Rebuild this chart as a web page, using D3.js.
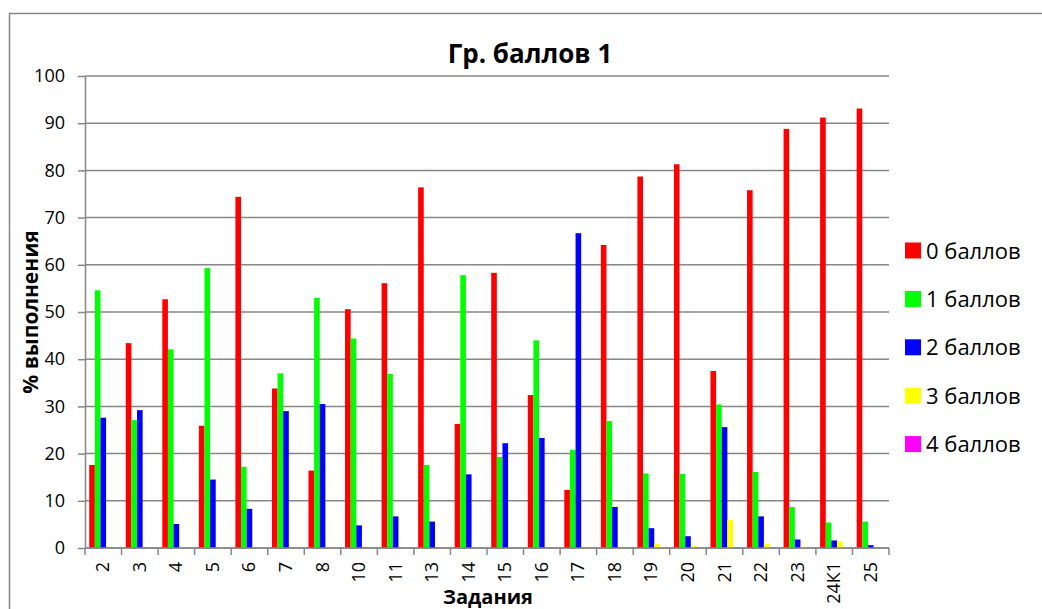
<!DOCTYPE html>
<html>
<head>
<meta charset="utf-8">
<script src="https://cdn.jsdelivr.net/npm/d3@7"></script>
<style>
  body { margin: 0; background: #fff; }
  svg { display: block; font-family: "Open Sans", sans-serif; }
</style>
</head>
<body>
<svg id="chart" width="1042" height="609"></svg>
<script>
// tasks on the x axis
var tasks = ["2", "3", "4", "5", "6", "7", "8", "10", "11", "13", "14", "15", "16", "17", "18", "19", "20", "21", "22", "23", "24К1", "25"];

var seriesNames = ["0 баллов", "1 баллов", "2 баллов", "3 баллов", "4 баллов"];

var points0 = [17.6, 43.4, 52.7, 25.9, 74.4, 33.8, 16.4, 50.6, 56.1, 76.4, 26.3, 58.3, 32.4, 12.3, 64.2, 78.7, 81.3, 37.5, 75.8, 88.8, 91.2, 93.1];
var points1 = [54.6, 27.1, 42.1, 59.3, 17.2, 37.0, 53.0, 44.4, 36.9, 17.6, 57.8, 19.3, 44.0, 20.8, 26.9, 15.8, 15.7, 30.4, 16.1, 8.7, 5.4, 5.6];
var points2 = [27.6, 29.2, 5.1, 14.5, 8.3, 29.0, 30.5, 4.8, 6.7, 5.6, 15.6, 22.2, 23.3, 66.7, 8.7, 4.2, 2.5, 25.6, 6.7, 1.8, 1.6, 0.6];
var points3 = [0, 0, 0, 0, 0, 0, 0, 0, 0, 0, 0, 0, 0, 0, 0, 0.85, 0.35, 6.0, 0.9, 0.3, 1.4, 0];
var points4 = [0, 0, 0, 0, 0, 0, 0, 0, 0, 0, 0, 0, 0, 0, 0, 0, 0, 0, 0, 0, 0, 0];

var yTicks = [0, 10, 20, 30, 40, 50, 60, 70, 80, 90, 100];

var colors = ["#ff0000", "#00ff00", "#0000ff", "#ffff00", "#ff00ff"];

var allSeries = [points0, points1, points2, points3, points4];

const svg = d3.select("#chart");
const gridColor = "#878787";

const margin = { left: 85, right: 153, top: 76, bottom: 61 };
const width = 1042 - margin.left - margin.right;   // 804
const height = 609 - margin.top - margin.bottom;   // 472

// outer chart border (runs past the right/bottom edges like the reference)
svg.append("rect")
    .attr("x", 9.5).attr("y", 13.5)
    .attr("width", 1060).attr("height", 640)
    .attr("fill", "none")
    .attr("stroke", gridColor)
    .attr("stroke-width", 1.5);

const g = svg.append("g")
    .attr("transform", `translate(${margin.left},${margin.top})`);

const xScale = d3.scaleBand()
    .domain(tasks)
    .range([0, width])
    .paddingInner(0)
    .paddingOuter(0);

// inner scale for the 5 series, gap width 150% like excel
const barW = xScale.bandwidth() / 6.5;
const xInner = d3.scaleBand()
    .domain(d3.range(seriesNames.length))
    .range([barW * 0.75, xScale.bandwidth() - barW * 0.75])
    .padding(0);

const yScale = d3.scaleLinear()
    .domain([0, 100])
    .range([height, 0]);

// gridlines
g.append("g")
    .selectAll("line")
    .data(yTicks)
    .join("line")
    .attr("x1", 0)
    .attr("x2", width)
    .attr("y1", d => yScale(d))
    .attr("y2", d => yScale(d))
    .attr("stroke", gridColor)
    .attr("stroke-width", 1.5);

// bars
const table = tasks.map((t, i) => ({ task: t, values: allSeries.map(s => s[i]) }));

g.append("g")
    .selectAll("g")
    .data(table)
    .join("g")
    .attr("transform", d => `translate(${xScale(d.task)},0)`)
    .selectAll("rect")
    .data(d => d.values.map((v, k) => ({ k: k, v: v })))
    .join("rect")
    .attr("x", d => xInner(d.k))
    .attr("width", xInner.bandwidth())
    .attr("y", d => yScale(d.v))
    .attr("height", d => height - yScale(d.v))
    .attr("fill", d => colors[d.k]);

// y axis
const yAxis = g.append("g")
    .call(d3.axisLeft(yScale).tickValues(yTicks).tickSize(7).tickSizeOuter(0).tickPadding(13));
yAxis.select(".domain").attr("stroke", gridColor).attr("stroke-width", 1.5);
yAxis.selectAll(".tick line").attr("stroke", gridColor).attr("stroke-width", 1.5);
yAxis.selectAll("text")
    .style("font-size", "18px")
    .style("font-family", "'Open Sans', sans-serif")
    .attr("fill", "#000");

// x axis: ticks sit between categories
const xAxis = g.append("g")
    .attr("transform", `translate(0,${height})`);
xAxis.append("line")
    .attr("x1", 0).attr("x2", width)
    .attr("stroke", gridColor).attr("stroke-width", 1.5);
xAxis.selectAll(".sep")
    .data(tasks.concat(["end"]))
    .join("line")
    .attr("class", "sep")
    .attr("x1", (d, i) => i === tasks.length ? width : xScale(d))
    .attr("x2", (d, i) => i === tasks.length ? width : xScale(d))
    .attr("y1", 0).attr("y2", 7)
    .attr("stroke", gridColor).attr("stroke-width", 1.5);
xAxis.selectAll(".lbl")
    .data(tasks)
    .join("text")
    .attr("class", "lbl")
    .attr("transform", d => `translate(${xScale(d) + xScale.bandwidth() / 2 + 6},14) rotate(-90)`)
    .attr("text-anchor", "end")
    .style("font-size", "18px")
    .text(d => d);

// title
svg.append("text")
    .attr("x", 530).attr("y", 63)
    .attr("text-anchor", "middle")
    .style("font-size", "26px")
    .style("font-weight", "bold")
    .text("Гр. баллов 1");

// axis titles
svg.append("text")
    .attr("transform", "translate(38,312) rotate(-90)")
    .attr("text-anchor", "middle")
    .style("font-size", "21px")
    .style("font-weight", "bold")
    .text("% выполнения");

svg.append("text")
    .attr("x", 488).attr("y", 604)
    .attr("text-anchor", "middle")
    .style("font-size", "20px")
    .style("font-weight", "bold")
    .text("Задания");

// legend
const legend = svg.append("g")
    .selectAll("g")
    .data(seriesNames)
    .join("g")
    .attr("transform", (d, i) => `translate(905,${250.5 + i * 48.4})`);
legend.append("rect")
    .attr("x", 0).attr("y", -8)
    .attr("width", 16).attr("height", 16)
    .attr("fill", (d, i) => colors[i]);
legend.append("text")
    .attr("x", 21).attr("y", 8)
    .style("font-size", "22px")
    .text(d => d);
</script>
</body>
</html>
